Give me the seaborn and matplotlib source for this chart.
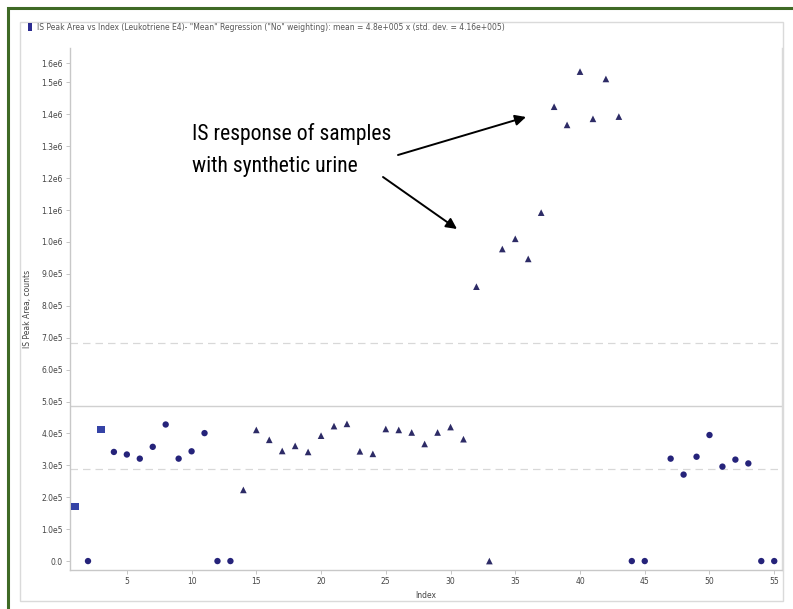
import numpy as np
import pandas as pd
import matplotlib.pyplot as plt
import seaborn as sns
from matplotlib.patches import Rectangle

sns.set_style("white")
plt.rcParams['font.family'] = ['DejaVu Sans']

# values
sample_index = list(range(1, 56))
peak_area = [1.70e5, 0, 4.13e5, 3.42e5, 3.34e5, 3.21e5, 3.58e5, 4.28e5, 3.21e5, 3.44e5,
             4.01e5, 0, 0, 2.23e5, 4.11e5, 3.80e5, 3.45e5, 3.61e5, 3.42e5, 3.93e5,
             4.23e5, 4.30e5, 3.44e5, 3.36e5, 4.14e5, 4.11e5, 4.03e5, 3.67e5, 4.03e5, 4.20e5,
             3.82e5, 8.60e5, 0, 9.78e5, 1.010e6, 9.47e5, 1.092e6, 1.424e6, 1.367e6, 1.534e6,
             1.386e6, 1.511e6, 1.393e6, 0, 0, np.nan, 3.21e5, 2.71e5, 3.27e5, 3.95e5,
             2.96e5, 3.18e5, 3.06e5, 0, 0]
sample_kind = (["Calibrator", "Standard", "Calibrator"] + ["Standard"] * 10
               + ["Sample"] * 30 + ["Standard"] * 12)

mean_value = 4.85e5
band_values = [2.88e5, 6.83e5]

x_ticks = [5, 10, 15, 20, 25, 30, 35, 40, 45, 50, 55]
y_ticks = [0, 1e5, 2e5, 3e5, 4e5, 5e5, 6e5, 7e5, 8e5, 9e5,
           1.0e6, 1.1e6, 1.2e6, 1.3e6, 1.4e6, 1.5e6, 1.56e6]
y_tick_labels = ["0.0", "1.0e5", "2.0e5", "3.0e5", "4.0e5", "5.0e5", "6.0e5", "7.0e5",
                 "8.0e5", "9.0e5", "1.0e6", "1.1e6", "1.2e6", "1.3e6", "1.4e6",
                 "1.5e6", "1.6e6"]

title = ('IS Peak Area vs Index (Leukotriene E4)- "Mean" Regression ("No" weighting): '
         'mean = 4.8e+005 x (std. dev. = 4.16e+005)')
note_lines = ["IS response of samples", "with synthetic urine"]

df = pd.DataFrame({"Index": sample_index, "Area": peak_area, "Kind": sample_kind})

W, H = 793, 609
fig = plt.figure(figsize=(W / 100, H / 100), dpi=100)
fig.patch.set_facecolor("white")

# outer green frame and light panel border
fig.patches.append(Rectangle((8 / W, -0.05), 1.05, 1 - 8 / H + 0.05, transform=fig.transFigure,
                             fill=False, edgecolor="#3f6a25", lw=2.2))
fig.patches.append(Rectangle((20 / W, (H - 601) / H), 763 / W, 579 / H, transform=fig.transFigure,
                             fill=False, edgecolor="#dadada", lw=1))

ax = fig.add_axes([70 / W, (H - 570) / H, 712 / W, 522 / H])

ax.axhline(mean_value, color="#d0d0d0", lw=1, zorder=0)
for v in band_values:
    ax.axhline(v, color="#d8d8d8", lw=0.9, ls=(0, (6, 4)), zorder=0)

sns.scatterplot(data=df, x="Index", y="Area", hue="Kind", style="Kind",
                palette={"Calibrator": "#3543a6", "Standard": "#25237a", "Sample": "#2d2b66"},
                markers={"Calibrator": "s", "Standard": "o", "Sample": "^"},
                size="Kind", sizes={"Calibrator": 28, "Standard": 21, "Sample": 23},
                edgecolor="none", legend=False, ax=ax, zorder=3)

ax.set_xlim(0.61, 55.6)
ax.set_ylim(-0.28e5, 1.608e6)
ax.set_xticks(x_ticks)
ax.set_xticklabels([str(t) for t in x_ticks])
ax.set_yticks(y_ticks)
ax.set_yticklabels(y_tick_labels)
ax.tick_params(axis="both", labelsize=5.5, labelcolor="#444444", color="#bbbbbb",
               length=3, width=0.6, pad=2, left=True, bottom=True)
ax.set_xlabel("Index", fontsize=5.5, color="#444444", labelpad=4)
ax.set_ylabel("IS Peak Area, counts", fontsize=5.5, color="#444444")
ax.yaxis.set_label_coords(-0.053, 0.5)

ax.spines["top"].set_visible(False)
ax.spines["left"].set_color("#c8c8c8")
ax.spines["bottom"].set_color("#c8c8c8")
ax.spines["right"].set_color("#dadada")
for s in ["left", "bottom", "right"]:
    ax.spines[s].set_linewidth(1)

# title bar
fig.patches.append(Rectangle((28 / W, (H - 31) / H), 4 / W, 8 / H, transform=fig.transFigure,
                             facecolor="#2b2b90", edgecolor="none"))
fig.text(37 / W, (H - 27) / H, title, fontsize=5.5, color="#555555", va="center")

# annotation
note_font = ["Liberation Sans Narrow", "Roboto Condensed", "Roboto", "DejaVu Sans"]
for line, base in zip(note_lines, [140, 172]):
    fig.text(192 / W, (H - base) / H, line, fontsize=15.6, family=note_font,
             stretch="condensed", color="black", va="baseline")
arrow = dict(arrowstyle="-|>", mutation_scale=16, lw=1.4, color="black", shrinkA=0, shrinkB=0)
ax.annotate("", xy=(526, H - 117), xycoords="figure pixels",
            xytext=(398, H - 155), textcoords="figure pixels", arrowprops=arrow)
ax.annotate("", xy=(457, H - 229), xycoords="figure pixels",
            xytext=(383, H - 177), textcoords="figure pixels", arrowprops=arrow)

fig.savefig("out.png", dpi=100)
